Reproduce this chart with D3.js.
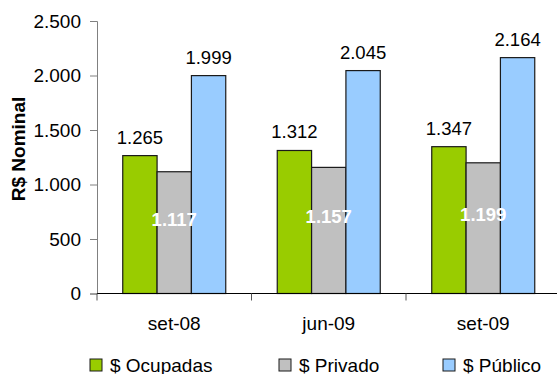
<!DOCTYPE html>
<html>
<head>
<meta charset="utf-8">
<script src="https://cdn.jsdelivr.net/npm/d3@7"></script>
<style>
  html, body { margin: 0; padding: 0; background: #fff; }
  svg { display: block; font-family: "Liberation Sans", Arial, sans-serif; }
</style>
</head>
<body>
<svg id="chart" width="558" height="374"></svg>
<script>
// Rendimento médio nominal (R$) por período
const periods = ["set-08", "jun-09", "set-09"];
const seriesNames = ["$ Ocupadas", "$ Privado", "$ Público"];
const seriesColors = ["#99CC00", "#C0C0C0", "#99CCFF"];
const ocupadas = [1265, 1312, 1347];
const privado = [1117, 1157, 1199];
const publico = [1999, 2045, 2164];
const yTicks = [0, 500, 1000, 1500, 2000, 2500];

const seriesValues = [ocupadas, privado, publico];
const fmt = v => d3.format(",")(v).replace(/,/g, ".");

const svg = d3.select("#chart");
const x0 = d3.scaleBand().domain(periods).range([97, 560.5]).padding(0);
const x1 = d3.scaleBand().domain(d3.range(seriesNames.length))
  .range([0, x0.bandwidth()]).paddingInner(0).paddingOuter(0.75);
const y = d3.scaleLinear().domain([0, 2500]).range([293.5, 21]);

// Y axis
const yAxis = svg.append("g").attr("transform", "translate(97,0)")
  .call(d3.axisLeft(y).tickValues(yTicks).tickSize(7).tickPadding(9).tickFormat(fmt));
yAxis.select(".domain").attr("stroke", "#808080");
yAxis.selectAll(".tick line").attr("stroke", "#808080");
yAxis.selectAll("text").attr("font-size", "19px").attr("fill", "#000")
  .attr("font-family", "Liberation Sans, Arial, sans-serif");

// Bars
const groups = svg.append("g").selectAll("g").data(periods).join("g")
  .attr("transform", d => `translate(${x0(d)},0)`);

groups.selectAll("rect")
  .data((p, i) => seriesValues.map((vals, s) => ({ s, v: vals[i] })))
  .join("rect")
  .attr("x", d => x1(d.s))
  .attr("width", x1.bandwidth())
  .attr("y", d => y(d.v))
  .attr("height", d => y(0) - y(d.v))
  .attr("fill", d => seriesColors[d.s])
  .attr("stroke", "#1a1a1a")
  .attr("stroke-width", 1.2);

// Value labels: above green and blue bars, inside the grey bars
groups.selectAll("text.val")
  .data((p, i) => seriesValues.map((vals, s) => ({ s, v: vals[i] })))
  .join("text")
  .attr("class", "val")
  .attr("x", d => x1(d.s) + x1.bandwidth() / 2)
  .attr("y", d => d.s === 1 ? (y(d.v) + y(0)) / 2 - 7 : y(d.v) - 12)
  .attr("text-anchor", "middle")
  .attr("font-size", "18.5px")
  .attr("font-weight", d => d.s === 1 ? "bold" : "normal")
  .attr("fill", d => d.s === 1 ? "#fff" : "#000")
  .text(d => fmt(d.v));

// X axis
const xAxis = svg.append("g").attr("transform", `translate(0,${y(0)})`)
  .call(d3.axisBottom(x0).tickSize(0).tickPadding(0));
xAxis.select(".domain").remove();
svg.append("line").attr("x1", 97).attr("x2", 557).attr("y1", y(0)).attr("y2", y(0))
  .attr("stroke", "#000").attr("stroke-width", 1.2);
// category separators
svg.append("g").selectAll("line").data(periods).join("line")
  .attr("x1", d => x0(d)).attr("x2", d => x0(d))
  .attr("y1", y(0)).attr("y2", y(0) + 7)
  .attr("stroke", "#555");
xAxis.selectAll("text")
  .attr("y", 36.5).attr("dy", null)
  .attr("font-size", "19px").attr("fill", "#000")
  .attr("font-family", "Liberation Sans, Arial, sans-serif");

// Y axis title
svg.append("text")
  .attr("transform", "translate(24.5,149) rotate(-90)")
  .attr("text-anchor", "middle")
  .attr("font-size", "19px")
  .attr("font-weight", "bold")
  .text("R$ Nominal");

// Legend
const legendX = [90, 279, 443];
const legend = svg.append("g").selectAll("g").data(seriesNames).join("g")
  .attr("transform", (d, i) => `translate(${legendX[i]},359)`);
legend.append("rect").attr("width", 12).attr("height", 12)
  .attr("fill", (d, i) => seriesColors[i]).attr("stroke", "#1a1a1a").attr("stroke-width", 1);
legend.append("text").attr("x", 20).attr("y", 12.5)
  .attr("font-size", "19px").text(d => d);
</script>
</body>
</html>
